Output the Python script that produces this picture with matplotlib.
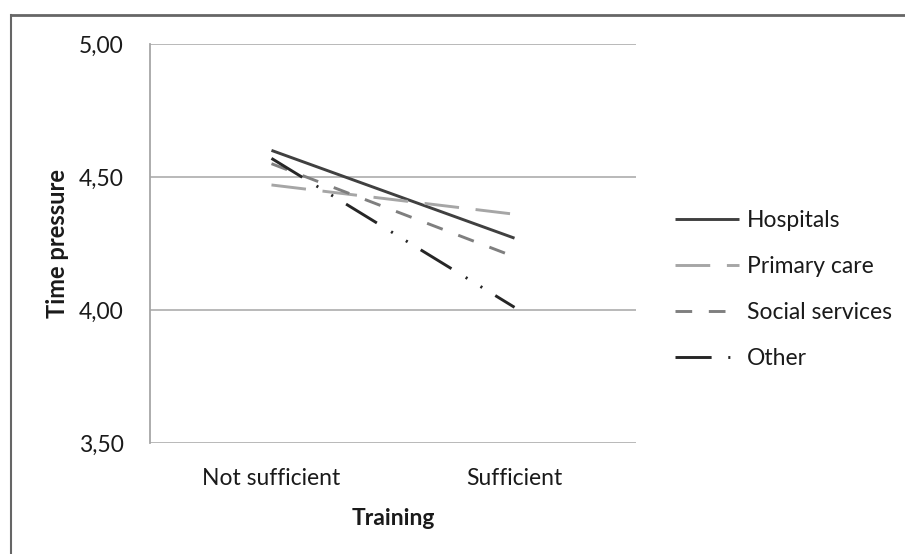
#======================================================================
#   IMPORTS:
#======================================================================

from matplotlib import pyplot as plt        # for plots
from matplotlib.lines import Line2D


#======================================================================
#   GLOBALS:
#======================================================================

ls_training = ['Not sufficient', 'Sufficient']          # x categories

ls_hospitals = [4.60, 4.27]         # time pressure per group
ls_primary = [4.47, 4.36]
ls_social = [4.55, 4.20]
ls_other = [4.57, 4.01]

ls_names = ['Hospitals', 'Primary care', 'Social services', 'Other']

ls_yticks = [3.5, 4.0, 4.5, 5.0]
ls_ylabels = ['3,50', '4,00', '4,50', '5,00']


#======================================================================
#   MAIN:
#======================================================================

if (__name__ == '__main__'):

    plt.rcParams['font.family'] = ['Lato', 'DejaVu Sans']
    plt.rcParams['lines.scale_dashes'] = False

    fig = plt.figure(figsize=(9.05, 5.54), dpi=100)
    ax = fig.add_axes([0.1657, 0.2004, 0.5371, 0.7202])

    x = [0, 1]

    # line styles (dash patterns in points)
    styles = [
        dict(color='#404040', linestyle='-'),
        dict(color='#a6a6a6', linestyle=(0, (25, 12))),
        dict(color='#7f7f7f', linestyle=(0, (12, 12))),
        dict(color='#262626', linestyle=(0, (26, 12, 1.5, 11, 1.5, 11))),
    ]
    ls_series = [ls_hospitals, ls_primary, ls_social, ls_other]

    for vals, name, st in zip(ls_series, ls_names, styles):
        ax.plot(x, vals, linewidth=2.1, label=name, solid_capstyle='butt',
                dash_capstyle='butt', **st)

    ax.set_xlim(-0.5, 1.5)
    ax.set_ylim(3.5, 5.0)
    ax.set_xticks(x)
    ax.set_xticklabels(ls_training)
    ax.set_yticks(ls_yticks)
    ax.set_yticklabels(ls_ylabels)
    ax.tick_params(length=0, labelsize=16.5, colors='#1a1a1a')
    ax.tick_params(axis='y', pad=19)
    ax.tick_params(axis='x', pad=18)

    ax.yaxis.grid(True, color='#b3b3b3', linewidth=1.3)
    ax.set_axisbelow(True)
    for side in ['top', 'right', 'bottom']:
        ax.spines[side].set_visible(False)
    ax.spines['left'].set_color('#a6a6a6')
    ax.spines['left'].set_linewidth(1.3)

    ax.set_xlabel('Training', fontsize=16.5, fontweight='bold', labelpad=14,
                  color='#1a1a1a')
    ax.set_ylabel('Time pressure', fontsize=17, fontweight='bold', labelpad=7,
                  color='#1a1a1a')

    leg = fig.legend(loc='upper left', bbox_to_anchor=(0.723, 0.659), frameon=False,
                     fontsize=16.5, handlelength=2.8, handletextpad=0.35,
                     labelspacing=1.1, labelcolor='#1a1a1a')

    # outer frame (top and left only)
    fig.add_artist(Line2D([0.012, 1.0], [0.973, 0.973], color='#666666',
                          linewidth=2, transform=fig.transFigure))
    fig.add_artist(Line2D([0.012, 0.012], [0.0, 0.973], color='#666666',
                          linewidth=1.5, transform=fig.transFigure))

    plt.savefig('out.png', dpi=100)
